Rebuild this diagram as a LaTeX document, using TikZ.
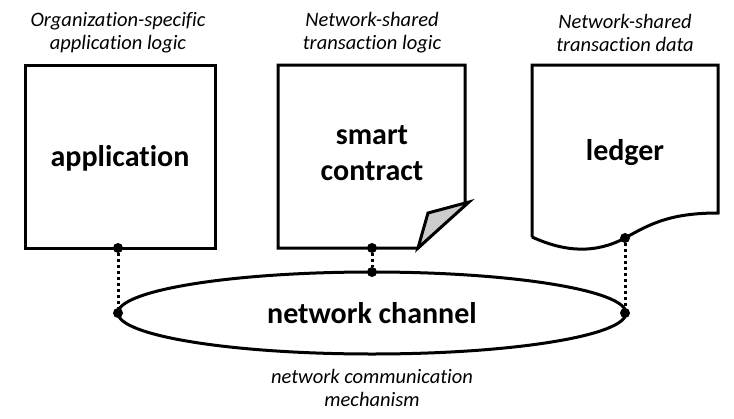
\documentclass[tikz,border=0pt]{standalone}
\usepackage{fontspec}
\setmainfont{Carlito}[Ligatures=NoCommon]
\begin{document}
\begin{tikzpicture}[x=1pt,y=-1pt,
  shapeline/.style={line width=3pt, line join=miter},
  dotline/.style={line width=3pt, dash pattern=on 3pt off 3pt},
  big/.style={font=\fontsize{30}{36}\selectfont\bfseries, align=center},
  note/.style={font=\fontsize{20.5}{23}\selectfont\itshape, align=center},
  pin/.style={circle, fill=black, inner sep=0pt, minimum size=10pt}]
\useasboundingbox (0,0) rectangle (734,418);
% application
\draw[shapeline] (25,65) rectangle (215,248);
\node[big] (app) at (120,158) {application};
% smart contract
\draw[shapeline] (278,65) -- (465,65) -- (465,204) -- (418,248) -- (278,248) -- cycle;
\draw[shapeline, fill=black!20] (469,202) -- (428,213) -- (418,248) -- cycle;
\node[big] (sc) at (372,153) {smart\\contract};
% ledger
\draw[shapeline] (532,237) -- (532,65) -- (718,65) -- (718,213)
  .. controls (670,213) and (650,224) .. (625,238)
  .. controls (595,254) and (565,252) .. (532,237);
\node[big] (led) at (625,153) {ledger};
% channel
\draw[shapeline] (372,313) ellipse [x radius=254, y radius=41];
\node[big] (ch) at (372,313) {network channel};
% pins
\node[pin] (p1) at (118,248) {};
\node[pin] (q1) at (118,313) {};
\node[pin] (p2) at (372,248) {};
\node[pin] (q2) at (372,272) {};
\node[pin] (p3) at (625,238) {};
\node[pin] (q3) at (625,313) {};
\draw[dotline] (p1) -- (q1);
\draw[dotline] (p2) -- (q2);
\draw[dotline] (p3) -- (q3);
% notes
\node[note] (n1) at (118,33) {Organization-specific\\application logic};
\node[note] (n2) at (372,33) {Network-shared\\transaction logic};
\node[note] (n3) at (625,33) {Network-shared\\transaction data};
\node[note] (n4) at (372,388) {network communication\\mechanism};
\end{tikzpicture}
\end{document}
